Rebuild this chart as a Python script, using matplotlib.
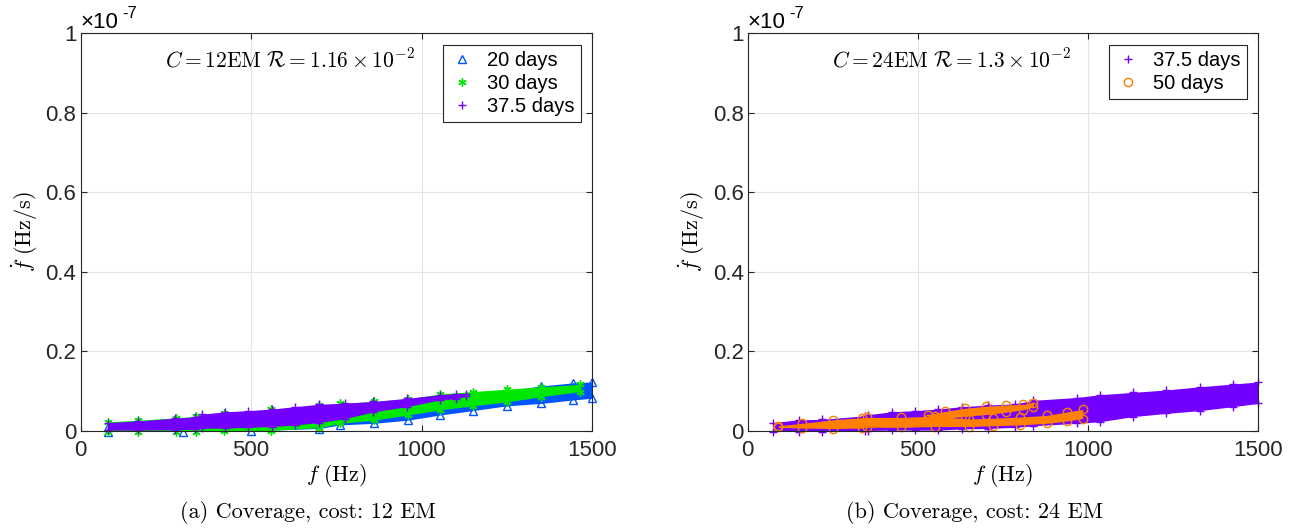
import matplotlib
matplotlib.use('Agg')
import matplotlib.pyplot as plt
from matplotlib.lines import Line2D

plt.rcParams.update({'font.family': 'Liberation Sans', 'mathtext.fontset': 'cm',
                     'axes.edgecolor': '#262626', 'axes.linewidth': 0.8,
                     'xtick.color': '#262626', 'ytick.color': '#262626'})

# f-dot values below are in units of 1e-7 Hz/s; each band = (f, upper edge, lower edge)
# --- panel (a): C = 12 EM
f_20d    = [80, 300, 500, 700, 760, 860, 960, 1055, 1150, 1250, 1350, 1445, 1500]
top_20d  = [0.010, 0.015, 0.020, 0.030, 0.035, 0.045, 0.058, 0.072, 0.088, 0.100, 0.112, 0.120, 0.122]
bot_20d  = [-0.003, -0.003, 0.000, 0.005, 0.014, 0.018, 0.026, 0.039, 0.050, 0.062, 0.068, 0.077, 0.081]

f_30d    = [80, 170, 280, 340, 420, 560, 700, 760, 860, 960, 1055, 1150, 1250, 1350, 1465]
top_30d  = [0.022, 0.026, 0.032, 0.036, 0.043, 0.053, 0.063, 0.068, 0.073, 0.080, 0.092, 0.098, 0.104, 0.110, 0.116]
bot_30d  = [-0.004, -0.004, -0.004, -0.003, -0.002, 0.000, 0.007, 0.018, 0.026, 0.039, 0.052, 0.062, 0.072, 0.085, 0.098]

f_375a   = [80, 170, 277, 336, 355, 424, 492, 561, 629, 698, 776, 859, 957, 1054, 1100, 1130]
top_375a = [0.020, 0.024, 0.031, 0.034, 0.041, 0.047, 0.050, 0.054, 0.060, 0.066, 0.069, 0.073, 0.081, 0.090, 0.093, 0.093]
bot_375a = [0.001, 0.001, 0.002, 0.003, 0.006, 0.006, 0.008, 0.010, 0.014, 0.020, 0.030, 0.047, 0.060, 0.077, 0.080, 0.086]

# --- panel (b): C = 24 EM
f_375b   = [75, 150, 217, 345, 355, 423, 492, 560, 629, 707, 786, 840, 967, 1035, 1133, 1231, 1329, 1427, 1500]
top_375b = [0.020, 0.027, 0.028, 0.037, 0.040, 0.047, 0.050, 0.054, 0.060, 0.064, 0.067, 0.076, 0.083, 0.090, 0.096, 0.102, 0.110, 0.117, 0.122]
bot_375b = [-0.003, -0.003, -0.003, -0.002, 0.000, 0.001, 0.001, 0.001, 0.004, 0.005, 0.008, 0.012, 0.018, 0.022, 0.035, 0.043, 0.050, 0.060, 0.068]

f_50lo   = [90, 160, 250, 335, 350, 450, 550, 650, 720, 800, 880, 940, 985]
top_50lo = [0.012, 0.018, 0.027, 0.032, 0.033, 0.033, 0.036, 0.029, 0.031, 0.034, 0.038, 0.047, 0.053]
bot_50lo = [0.008, 0.006, 0.005, 0.006, 0.008, 0.008, 0.010, 0.010, 0.012, 0.014, 0.018, 0.024, 0.030]

f_50hi   = [530, 580, 640, 700, 760, 810, 840]
top_50hi = [0.040, 0.048, 0.056, 0.061, 0.064, 0.066, 0.068]
bot_50hi = [0.028, 0.030, 0.036, 0.040, 0.046, 0.052, 0.060]

BLUE, GREEN, PURPLE, ORANGE = '#0055ff', '#00e800', '#7300ff', '#ff7f00'
MK = {'20 days': ('^', BLUE), '30 days': ((6, 2, 0), GREEN),
      '37.5 days': ('+', PURPLE), '50 days': ('o', ORANGE)}


def band(ax, f, top, bot, key):
    m, c = MK[key]
    ax.fill_between(f, bot, top, color=c, lw=0, zorder=2)
    for y in (top, bot):
        ax.plot(f, y, ls='none', marker=m, ms=6, mew=1.0, mec=c, mfc='none',
                clip_on=False, zorder=2)


def style(ax, note, keys):
    ax.set_xlim(0, 1500); ax.set_ylim(0, 1)
    ax.set_xticks([0, 500, 1000, 1500])
    ax.set_yticks([0, 0.2, 0.4, 0.6, 0.8, 1])
    ax.set_yticklabels(['0', '0.2', '0.4', '0.6', '0.8', '1'])
    ax.tick_params(direction='in', top=True, right=True, length=4, width=0.8,
                   labelsize=16)
    ax.tick_params(axis='x', pad=7)
    ax.tick_params(axis='y', pad=3)
    ax.grid(True, color='#e3e3e3', lw=0.8, zorder=0)
    ax.set_axisbelow(True)
    ax.set_xlabel(r'$f\ (\mathrm{Hz})$', fontsize=16)
    ax.set_ylabel(r'$\dot{f}\ (\mathrm{Hz/s})$', fontsize=16)
    ax.xaxis.set_label_coords(0.5, -0.078)
    ax.yaxis.set_label_coords(-0.08, 0.5)
    ax.text(0.0, 1.012, '×10', transform=ax.transAxes, fontsize=16, va='baseline')
    ax.text(0.082, 1.037, '-7', transform=ax.transAxes, fontsize=12, va='baseline')
    ax.text(0.165, 0.914, note, transform=ax.transAxes, fontsize=15.5, va='baseline')
    hs = [Line2D([], [], ls='none', marker=MK[k][0], ms=6, mew=1.0,
                 mec=MK[k][1], mfc='none') for k in keys]
    leg = ax.legend(hs, keys, loc='upper right', bbox_to_anchor=(0.978, 0.970),
                    borderaxespad=0, fontsize=14.5, frameon=True, fancybox=False,
                    edgecolor='#262626', framealpha=1, handlelength=1.3,
                    handletextpad=0.6, labelspacing=0.2, borderpad=0.3)
    leg.get_frame().set_linewidth(0.8)


fig = plt.figure(figsize=(13.09, 5.29), dpi=100)
axa = fig.add_axes([0.0615, 0.1862, 0.3908, 0.7514])
axb = fig.add_axes([0.5712, 0.1862, 0.3898, 0.7514])

band(axa, f_20d, top_20d, bot_20d, '20 days')
band(axa, f_30d, top_30d, bot_30d, '30 days')
band(axa, f_375a, top_375a, bot_375a, '37.5 days')
style(axa, r'$C = 12\mathrm{EM}\ \mathcal{R} = 1.16\times10^{-2}$',
      ['20 days', '30 days', '37.5 days'])

band(axb, f_375b, top_375b, bot_375b, '37.5 days')
band(axb, f_50lo, top_50lo, bot_50lo, '50 days')
band(axb, f_50hi, top_50hi, bot_50hi, '50 days')
style(axb, r'$C = 24\mathrm{EM}\ \mathcal{R} = 1.3\times10^{-2}$',
      ['37.5 days', '50 days'])

fig.text(308 / 1309, 1 - 513 / 529, '(a) Coverage, cost: 12 EM', family='cmr10',
         fontsize=16, ha='center', va='center')
fig.text(975 / 1309, 1 - 513 / 529, '(b) Coverage, cost: 24 EM', family='cmr10',
         fontsize=16, ha='center', va='center')

fig.savefig('out.png', dpi=100)
